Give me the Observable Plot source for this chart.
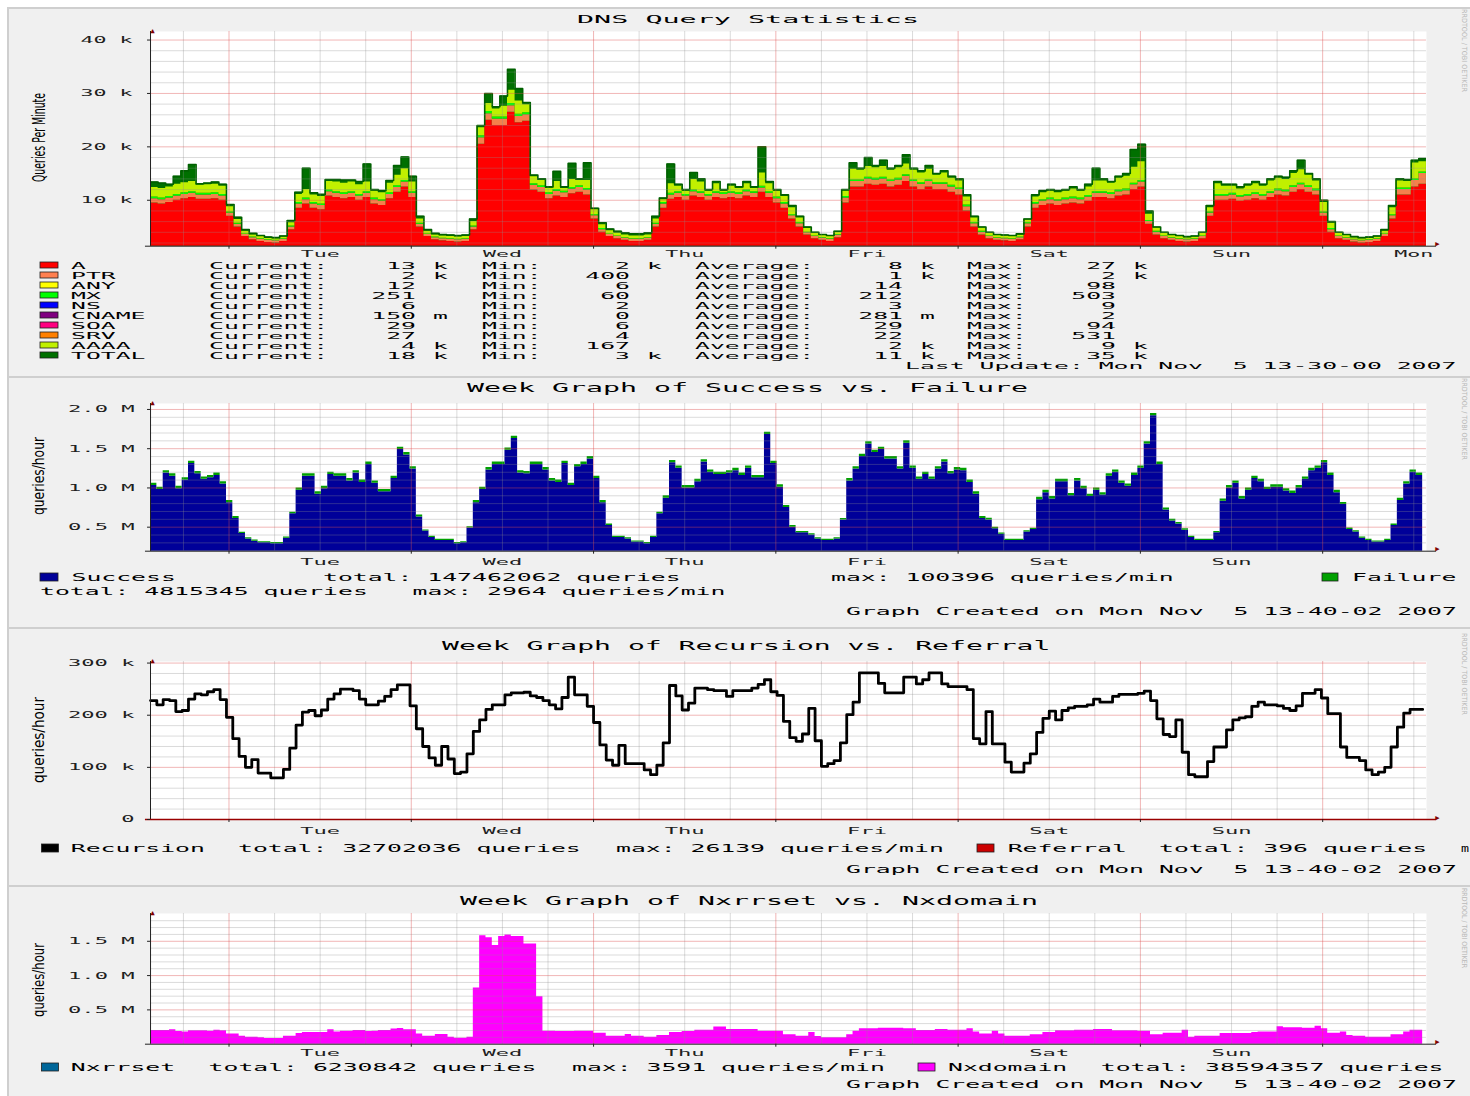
<!DOCTYPE html>
<html><head><meta charset="utf-8">
<script src="https://cdn.jsdelivr.net/npm/d3@7"></script>
<script src="https://cdn.jsdelivr.net/npm/@observablehq/plot@0.6"></script>
<style>
html,body{margin:0;padding:0;background:#fff;}
#page{position:relative;width:1470px;height:1096px;overflow:hidden;background:#fff;}
.panel{position:absolute;left:7px;width:1470px;background:#f0f0f0;border-top:2px solid #cfcfcf;border-left:2px solid #cfcfcf;box-sizing:border-box;}
</style></head><body><div id="page"></div>
<script>
// ---------------- DATA ----------------
const dayLabels = ["Tue","Wed","Thu","Fri","Sat","Sun","Mon"];

// Panel 1: DNS Query Statistics (hourly, thousands of queries per minute)
const dnsA = [
9.5,9.3,9.6,10.0,10.3,10.5,10.2,10.2,10.3,10.0,
7.0,5.0,3.2,2.6,2.3,2.1,2.0,2.3,4.5,8.5,
9.3,8.5,8.2,10.8,10.5,10.3,10.5,10.0,10.5,9.3,
9.0,10.3,11.5,12.5,10.5,5.0,3.2,2.6,2.4,2.3,
2.2,2.3,4.5,20.5,25.0,24.0,24.0,26.5,24.5,24.8,
11.9,11.5,10.3,10.8,10.5,11.2,11.5,11.0,6.5,4.0,
3.2,2.8,2.5,2.3,2.3,2.5,5.0,8.5,10.2,10.5,
10.0,10.8,10.5,10.0,10.5,10.3,10.5,10.3,10.8,10.5,
11.5,10.5,9.5,8.5,6.5,5.0,3.5,2.8,2.5,2.3,
3.0,9.5,12.5,12.5,13.0,12.8,13.0,12.5,12.8,13.5,
12.5,12.0,12.5,12.0,12.0,11.5,11.0,8.0,5.0,3.5,
2.8,2.5,2.4,2.3,2.6,5.0,8.5,9.0,9.3,9.0,
9.3,9.5,9.3,9.8,10.5,10.5,10.3,10.8,11.0,12.0,
12.5,5.5,3.5,2.8,2.5,2.3,2.2,2.3,2.8,7.0,
10.0,10.0,10.2,9.8,10.0,10.3,10.0,10.5,11.0,10.8,
11.5,12.0,11.5,11.0,7.0,4.0,2.8,2.5,2.2,2.0,
2.1,2.3,3.2,6.5,11.0,11.0,12.5,13.0];
const dnsPTR = [
.8,.8,.8,.8,.8,.8,.8,.8,.8,.8,
.6,.5,.4,.4,.4,.4,.4,.4,.5,.8,
.8,.8,.8,.8,.8,.8,.8,.8,.8,.8,
.8,.8,.9,.9,.8,.5,.4,.4,.4,.4,
.4,.4,.5,1.2,1.2,1.2,1.2,1.2,1.2,1.2,
.9,.9,.8,.9,.9,.9,.9,.9,.6,.5,
.4,.4,.4,.4,.4,.4,.5,.8,.8,.8,
.8,.8,.8,.8,.8,.8,.8,.8,.8,.8,
.8,.8,.8,.8,.6,.6,.4,.4,.4,.4,
.5,.9,1.0,1.0,1.0,1.0,1.0,1.0,1.0,1.0,
1.0,1.0,1.0,1.0,1.0,1.0,1.0,.8,.6,.5,
.4,.4,.4,.4,.4,.6,.8,.8,.8,.8,
.8,.8,.8,.8,.8,.8,.8,.8,.8,.9,
.9,.5,.5,.4,.4,.4,.4,.4,.4,.6,
.8,.8,.8,.8,.8,.8,.8,.8,.8,.8,
.9,.9,.9,.8,.6,.5,.4,.4,.4,.4,
.4,.4,.4,.6,1.0,1.0,1.2,2.0];
const dnsMX = [
.3,.3,.3,.3,.3,.3,.3,.3,.3,.3,
.2,.2,.1,.1,.1,.1,.1,.1,.2,.3,
.3,.3,.3,.3,.3,.3,.3,.3,.3,.3,
.3,.3,.3,.3,.3,.2,.1,.1,.1,.1,
.1,.1,.2,.4,.4,.4,.4,.4,.4,.4,
.3,.3,.3,.3,.3,.3,.3,.3,.2,.2,
.1,.1,.1,.1,.1,.1,.2,.3,.3,.3,
.3,.3,.3,.3,.3,.3,.3,.3,.3,.3,
.3,.3,.3,.3,.2,.2,.1,.1,.1,.1,
.1,.3,.3,.3,.3,.3,.3,.3,.3,.3,
.3,.3,.3,.3,.3,.3,.3,.3,.2,.2,
.1,.1,.1,.1,.1,.2,.3,.3,.3,.3,
.3,.3,.3,.3,.3,.3,.3,.3,.3,.3,
.3,.2,.2,.1,.1,.1,.1,.1,.1,.2,
.3,.3,.3,.3,.3,.3,.3,.3,.3,.3,
.3,.3,.3,.3,.2,.2,.1,.1,.1,.1,
.1,.1,.1,.2,.3,.3,.3,.3];
const dnsAAAA = [
1.8,1.8,1.8,1.9,1.9,1.9,1.5,1.6,1.6,1.5,
1.0,.7,.5,.4,.4,.3,.3,.3,.6,1.5,
1.6,1.4,1.4,1.6,1.8,1.8,1.8,1.8,1.8,1.3,
1.3,1.8,2.0,2.2,1.8,.8,.5,.4,.4,.4,
.4,.4,.8,1.5,1.5,1.5,2.0,2.5,2.5,1.5,
1.3,1.0,.8,1.5,.5,1.5,1.0,1.5,.9,.7,
.6,.5,.5,.5,.5,.5,.8,.5,1.8,1.0,
.6,2.0,1.8,.6,1.5,.3,1.0,.8,1.2,.6,
2.5,1.5,1.1,1.1,1.3,.9,.7,.5,.4,.4,
.4,1.0,2.0,1.8,2.0,2.0,2.0,1.8,2.0,2.0,
1.8,1.8,2.0,1.4,1.8,1.3,1.3,1.5,.9,.6,
.5,.4,.4,.4,.4,.5,1.0,1.3,1.3,1.3,
1.3,1.5,1.3,1.6,2.0,2.0,1.8,2.2,2.4,3.0,
3.5,1.2,.6,.5,.4,.4,.3,.3,.5,.8,
2.0,1.5,1.3,1.2,1.5,1.7,1.5,2.0,2.0,2.0,
2.3,2.5,2.0,1.5,1.8,1.0,.5,.4,.3,.3,
.3,.3,.5,1.3,1.3,1.2,3.0,1.9];
const dnsTOTAL = [
13.4,13.2,13.0,14.5,15.5,16.7,13.1,13.2,13.4,13.0,
9.2,6.8,4.5,3.8,3.4,3.1,3.0,3.3,6.2,11.5,
16.0,11.4,11.1,13.9,13.9,13.8,13.8,13.5,16.8,12.0,
11.8,13.7,16.5,18.1,14.5,7.0,4.5,3.8,3.6,3.5,
3.4,3.5,6.5,24.0,30.0,27.5,29.5,34.5,30.9,28.3,
14.7,14.0,12.5,15.4,12.5,16.9,14.0,17.0,8.5,5.8,
4.6,4.2,3.9,3.7,3.7,3.9,7.0,10.4,16.8,13.0,
12.0,15.2,14.0,12.0,13.5,12.0,13.0,12.5,13.5,12.5,
20.0,13.5,12.0,11.0,9.0,7.0,5.0,4.0,3.6,3.4,
4.2,12.0,17.0,16.0,18.0,16.5,17.5,16.0,16.5,18.5,
16.0,15.5,16.5,15.0,15.5,14.5,14.0,11.0,7.0,5.0,
4.0,3.6,3.5,3.4,3.7,6.5,11.0,11.8,12.0,11.8,
12.0,12.5,12.0,13.0,16.0,14.0,13.5,14.5,15.0,19.5,
20.5,8.0,5.0,4.0,3.6,3.4,3.2,3.3,4.0,9.0,
13.5,13.0,13.0,12.5,13.0,13.5,13.0,14.0,14.5,14.3,
15.5,17.5,15.0,14.0,10.0,6.0,4.0,3.6,3.2,3.0,
3.1,3.3,4.5,9.0,14.0,13.9,17.5,17.8];

const dnsTypes   = ["A","PTR","ANY","MX","NS","CNAME","SOA","SRV","AAAA","TOTAL"];
const dnsColors  = ["#ff0000","#ff8050","#ffff00","#00ff00","#0000ff","#800080","#ff0080","#ff8000","#c0f000","#007000"];
const dnsCurrent = ["13 k","2 k","12","251","6","150 m","29","27","4 k","18 k"];
const dnsMin     = ["2 k","400","6","60","2","0","6","4","167","3 k"];
const dnsAvg     = ["8 k","1 k","14","212","3","281 m","29","22","2 k","11 k"];
const dnsMax     = ["27 k","2 k","98","503","9","2","94","531","9 k","35 k"];
const dnsYTicks  = [10,20,30,40];
const dnsYLabels = ["10 k","20 k","30 k","40 k"];

// Panel 2: Success vs Failure (50-minute steps, millions of queries/hour)
const success = [
1.03,0.98,1.19,1.15,0.99,1.10,1.31,1.18,1.11,1.13,
1.16,1.05,0.81,0.61,0.42,0.35,0.32,0.30,0.30,0.29,
0.29,0.36,0.67,0.97,1.15,1.15,0.92,0.99,1.17,1.15,
1.15,1.09,1.19,1.07,1.30,1.06,0.95,0.95,1.12,1.49,
1.42,1.24,0.63,0.45,0.37,0.33,0.33,0.33,0.29,0.30,
0.49,0.81,0.98,1.23,1.30,1.30,1.48,1.63,1.19,1.18,
1.30,1.30,1.23,1.09,1.07,1.31,1.03,1.27,1.30,1.37,
1.12,0.81,0.52,0.37,0.37,0.35,0.31,0.31,0.29,0.37,
0.67,0.87,1.32,1.25,1.00,1.00,1.08,1.33,1.20,1.17,
1.17,1.19,1.22,1.16,1.25,1.13,1.13,1.68,1.31,1.01,
0.75,0.50,0.43,0.43,0.40,0.35,0.33,0.33,0.35,0.59,
1.09,1.24,1.40,1.56,1.45,1.49,1.37,1.37,1.24,1.57,
1.25,1.11,1.17,1.11,1.24,1.33,1.18,1.23,1.22,1.07,
0.92,0.61,0.59,0.48,0.41,0.33,0.33,0.33,0.44,0.47,
0.85,0.94,0.86,1.08,1.08,0.90,1.09,0.99,0.89,0.97,
0.91,1.15,1.20,1.06,1.02,1.16,1.25,1.56,1.92,1.30,
0.72,0.58,0.54,0.46,0.37,0.33,0.33,0.33,0.43,0.83,
1.00,1.06,0.86,0.97,1.12,1.08,0.98,1.01,1.01,0.96,
0.93,1.00,1.11,1.22,1.25,1.32,1.16,0.94,0.79,0.47,
0.44,0.36,0.33,0.31,0.31,0.33,0.52,0.84,1.05,1.20,
1.16];
const failure = [
.03,.03,.03,.03,.03,.03,.03,.03,.03,.03,
.03,.03,.03,.025,.015,.015,.015,.015,.015,.015,
.015,.015,.02,.03,.03,.03,.03,.03,.03,.03,
.03,.03,.03,.03,.03,.03,.03,.03,.03,.03,
.03,.03,.025,.015,.015,.015,.015,.015,.015,.015,
.015,.03,.03,.03,.03,.03,.03,.03,.03,.03,
.03,.03,.03,.03,.03,.03,.03,.03,.03,.03,
.03,.03,.02,.015,.015,.015,.015,.015,.015,.015,
.02,.03,.03,.03,.03,.03,.03,.03,.03,.03,
.03,.03,.03,.03,.03,.03,.03,.03,.03,.03,
.025,.02,.015,.015,.015,.015,.015,.015,.015,.02,
.03,.03,.03,.03,.03,.03,.03,.03,.03,.03,
.03,.03,.03,.03,.03,.03,.03,.03,.03,.03,
.03,.025,.025,.02,.015,.015,.015,.015,.015,.015,
.03,.03,.03,.03,.03,.03,.03,.03,.03,.03,
.03,.03,.03,.03,.03,.03,.03,.03,.03,.03,
.025,.02,.02,.02,.015,.015,.015,.015,.015,.03,
.03,.03,.03,.03,.03,.03,.03,.03,.03,.03,
.03,.03,.03,.03,.03,.03,.03,.03,.025,.02,
.015,.015,.015,.015,.015,.015,.02,.03,.03,.03,
.03];
const sfYTicks  = [0.5,1.0,1.5,2.0];
const sfYLabels = ["0.5 M","1.0 M","1.5 M","2.0 M"];

// Panel 3: Recursion (50-minute steps, thousands of queries/hour)
const recursion = [
228,220,230,228,207,209,231,241,239,245,
249,230,196,155,121,100,115,89,89,80,
80,96,137,181,206,209,199,210,231,241,
250,250,247,231,220,220,227,236,249,258,
258,218,174,140,118,104,140,116,88,91,
126,169,191,211,220,220,239,243,243,244,
237,234,228,220,212,234,273,239,239,217,
186,143,114,104,142,107,107,107,95,86,
104,147,257,237,210,223,252,252,249,247,
247,236,247,247,247,252,259,268,245,238,
188,157,150,164,213,151,102,107,113,147,
201,225,281,281,281,261,243,243,243,273,
273,260,268,281,281,260,255,255,255,249,
155,145,207,145,145,110,91,91,108,126,
167,194,208,191,209,214,217,217,220,231,
225,225,236,240,240,240,242,246,228,193,
163,159,191,129,86,82,82,111,139,139,
172,191,195,197,217,225,220,220,218,213,
209,218,242,242,249,233,203,203,139,119,
119,113,95,86,91,100,139,177,204,211,
211];
const recYTicks  = [0,100,200,300];
const recYLabels = ["0","100 k","200 k","300 k"];

// Panel 4: Nxdomain (50-minute steps, millions of queries/hour)
const nxdomain = [
0.20,0.20,0.20,0.21,0.185,0.176,0.195,0.195,0.195,0.19,
0.205,0.195,0.15,0.15,0.117,0.10,0.10,0.093,0.083,0.083,
0.083,0.117,0.117,0.156,0.17,0.17,0.17,0.17,0.21,0.176,
0.19,0.19,0.20,0.20,0.185,0.19,0.20,0.20,0.22,0.23,
0.21,0.21,0.15,0.117,0.117,0.14,0.14,0.10,0.088,0.088,
0.10,0.82,1.58,1.55,1.44,1.57,1.59,1.57,1.57,1.46,
1.46,0.69,0.19,0.19,0.185,0.185,0.185,0.19,0.19,0.19,
0.16,0.16,0.117,0.117,0.117,0.14,0.117,0.117,0.10,0.10,
0.127,0.127,0.17,0.17,0.185,0.185,0.205,0.205,0.205,0.25,
0.25,0.215,0.215,0.215,0.215,0.215,0.19,0.19,0.19,0.19,
0.137,0.137,0.117,0.117,0.17,0.112,0.093,0.093,0.093,0.093,
0.137,0.19,0.225,0.225,0.225,0.234,0.234,0.234,0.234,0.225,
0.225,0.20,0.20,0.20,0.215,0.215,0.205,0.205,0.205,0.225,
0.176,0.15,0.15,0.19,0.15,0.117,0.117,0.117,0.117,0.137,
0.137,0.17,0.17,0.195,0.195,0.195,0.205,0.205,0.205,0.215,
0.215,0.215,0.195,0.195,0.195,0.195,0.19,0.19,0.137,0.137,
0.16,0.16,0.16,0.205,0.10,0.117,0.117,0.117,0.117,0.156,
0.156,0.156,0.156,0.156,0.17,0.176,0.176,0.176,0.254,0.24,
0.24,0.24,0.234,0.234,0.26,0.225,0.16,0.16,0.176,0.127,
0.117,0.117,0.10,0.10,0.10,0.10,0.137,0.137,0.176,0.205,
0.205];
const nxYTicks  = [0.5,1.0,1.5];
const nxYLabels = ["0.5 M","1.0 M","1.5 M"];

// ---------------- BUILD ----------------
const HOUR = 3600e3, STEP50 = 50*60e3;
const t0 = Date.UTC(2007,9,29,13,40), tEnd = t0 + 168*HOUR;
const d0 = new Date(t0), dEnd = new Date(tEnd);
const midnights = d3.range(7).map(d => new Date(Date.UTC(2007,9,30+d)));
const noons = dayLabels.map((_, d) => new Date(Date.UTC(2007,9,30+d,12)));
const sixes = d3.utcHour.every(6).range(d0, dEnd).filter(d => d.getUTCHours() !== 0);

function rows(arr, step, name){
  const r = arr.map((v,i) => ({t:new Date(t0 + i*step), v, s:name}));
  r.push({t:new Date(t0 + arr.length*step), v:arr[arr.length-1], s:name});
  return r;
}

const page = document.getElementById("page");
[[7,370],[376,252],[627,259],[885,215]].forEach(([top,h]) => {
  const d = document.createElement("div"); d.className = "panel";
  d.style.top = top + "px"; d.style.height = h + "px"; page.appendChild(d);
});

function gridMarks(minorY, majorY){
  return [
    Plot.ruleY(minorY, {stroke:"#8f8f8f", strokeOpacity:0.32}),
    Plot.ruleX(sixes, {stroke:"#8f8f8f", strokeOpacity:0.32}),
    Plot.ruleY(majorY, {stroke:"#de5050", strokeOpacity:0.42}),
    Plot.ruleX(midnights, {stroke:"#de5050", strokeOpacity:0.42})
  ];
}
function axisMarks(o){
  const nn = o.showMon ? noons : noons.slice(0,6);
  return [
    Plot.ruleX([d0], {stroke:"#202020"}),
    Plot.ruleY([o.ymin], {x1:new Date(t0 - 40*60e3), x2:new Date(tEnd + 80*60e3), stroke:o.baseColor || "#202020", strokeWidth:o.baseWidth || 1}),
    Plot.axisY({ticks:o.yTicks, tickFormat:d => o.yLabels[o.yTicks.indexOf(d)], tickSize:3, tickPadding:o.yPad, label:null, fontSize:o.font}),
    Plot.axisX({ticks:midnights, tickSize:3, tickFormat:() => "", label:null}),
    Plot.axisX({ticks:nn, tickSize:0, tickPadding:o.xPad, label:null, fontSize:o.font,
      tickFormat:d => dayLabels[noons.findIndex(n => +n === +d)]}),
    Plot.text(["\u25B2"], {frameAnchor:"top-left", text:d => d, dy:-3, fill:"#7f0000", fontSize:7}),
    Plot.text(["\u25B6"], {frameAnchor:"bottom-right", text:d => d, dx:13, fill:"#7f0000", fontSize:7})
  ];
}
function stretch(svg, cw){
  d3.select(svg).selectAll("text").each(function(){
    const s = this.textContent;
    if (!s || s === "\u25B2" || s === "\u25B6") return;
    this.setAttribute("textLength", (s.length*cw).toFixed(1));
    this.setAttribute("lengthAdjust", "spacingAndGlyphs");
  });
}
function place(svg, top){
  svg.style.position = "absolute"; svg.style.left = "0px"; svg.style.top = top + "px";
  page.appendChild(svg);
}
const baseStyle = {background:"transparent", fontFamily:"DejaVu Sans Mono", fontSize:"8.5px", color:"#202020", overflow:"visible"};
const common = {width:1470, marginLeft:150, marginRight:44, marginTop:20, marginBottom:20,
  x:{type:"utc", domain:[d0, dEnd]}, style:baseStyle};

// Panel 1
const stackNames = ["A","PTR","MX","AAAA"];
const stackRows = [...rows(dnsA,HOUR,"A"), ...rows(dnsPTR,HOUR,"PTR"), ...rows(dnsMX,HOUR,"MX"), ...rows(dnsAAAA,HOUR,"AAAA")];
const totalRows = rows(dnsTOTAL, HOUR, "TOTAL");
const p1 = Plot.plot({...common, height:254.7,
  y:{domain:[1.4, 41.6]},
  color:{domain:stackNames, range:["#ff0000","#f4804c","#00ff00","#c0f000"]},
  marks:[
    Plot.frame({fill:"#ffffff", stroke:"none"}),
    Plot.areaY(totalRows, {x:"t", y:"v", curve:"step-after", fill:"#007000", clip:true}),
    Plot.areaY(stackRows, Plot.stackY({x:"t", y:"v", z:"s", fill:"s", order:stackNames, curve:"step-after", clip:true})),
    Plot.line(totalRows, {x:"t", y:"v", curve:"step-after", stroke:"#006000", strokeWidth:1.6, clip:true}),
    ...gridMarks(d3.range(2, 41, 2).filter(v => v % 10), dnsYTicks),
    ...axisMarks({ymin:1.4, yTicks:dnsYTicks, yLabels:dnsYLabels, yPad:15, xPad:5, showMon:true, font:8.5})
  ]});
stretch(p1, 13.0); place(p1, 11);

// Panel 2
const sfRows = [...rows(success, STEP50, "Success"), ...rows(failure, STEP50, "Failure")];
const p2 = Plot.plot({...common, height:187.7,
  y:{domain:[0.194, 2.076]},
  color:{domain:["Success","Failure"], range:["#000099","#00a000"]},
  marks:[
    Plot.frame({fill:"#ffffff", stroke:"none"}),
    Plot.areaY(sfRows, Plot.stackY({x:"t", y:"v", z:"s", fill:"s", order:["Success","Failure"], curve:"step-after", clip:true})),
    ...gridMarks(d3.range(0.3, 2.0, 0.1).map(v => +v.toFixed(1)).filter(v => Math.abs(v*2 - Math.round(v*2)) > 1e-6), sfYTicks),
    ...axisMarks({ymin:0.194, yTicks:sfYTicks, yLabels:sfYLabels, yPad:13, xPad:7.5, showMon:false, font:9.2})
  ]});
stretch(p2, 13.3); place(p2, 383);

// Panel 3
const recRows = rows(recursion, STEP50, "Recursion");
const p3 = Plot.plot({...common, height:198,
  y:{domain:[0, 303]},
  marks:[
    Plot.frame({fill:"#ffffff", stroke:"none"}),
    ...gridMarks(d3.range(20, 300, 20).filter(v => v % 100), recYTicks.slice(1)),
    Plot.line(recRows, {x:"t", y:"v", curve:"step-after", stroke:"#000000", strokeWidth:2.8}),
    ...axisMarks({ymin:0, yTicks:recYTicks, yLabels:recYLabels, yPad:13, xPad:8, showMon:false, font:9.2, baseColor:"#9a0000", baseWidth:1.6})
  ]});
stretch(p3, 13.3); place(p3, 641);

// Panel 4
const nxRows = rows(nxdomain, STEP50, "Nxdomain");
const p4 = Plot.plot({...common, height:170.7,
  y:{domain:[0, 1.905]},
  marks:[
    Plot.frame({fill:"#ffffff", stroke:"none"}),
    Plot.areaY(nxRows, {x:"t", y:"v", curve:"step-after", fill:"#ff00ff"}),
    ...gridMarks(d3.range(0.1, 1.85, 0.1).map(v => +v.toFixed(1)).filter(v => Math.abs(v*2 - Math.round(v*2)) > 1e-6), nxYTicks),
    ...axisMarks({ymin:0, yTicks:nxYTicks, yLabels:nxYLabels, yPad:13, xPad:5, showMon:false, font:9.2})
  ]});
stretch(p4, 13.3); place(p4, 893.3);

// ---------------- TEXT OVERLAY ----------------
const ov = d3.create("svg").attr("width",1470).attr("height",1096)
  .style("position","absolute").style("left","0px").style("top","0px").style("pointer-events","none");
function T(x, y, s, o={}){
  const size = o.size || 11, cw = o.cw || 14.9, anchor = o.anchor || "start";
  const t = ov.append("text").attr("x",x).attr("y",y).attr("font-family","DejaVu Sans Mono")
    .attr("font-size",size).attr("dominant-baseline","central").attr("text-anchor",anchor)
    .attr("fill",o.fill || "#000").style("white-space","pre").text(s);
  t.attr("textLength",(s.length*cw).toFixed(1)).attr("lengthAdjust","spacingAndGlyphs");
  return t;
}
function S(x, y, w, h, fill){
  ov.append("rect").attr("x",x).attr("y",y).attr("width",w).attr("height",h)
    .attr("fill",fill).attr("stroke","#202020").attr("stroke-width",0.8);
}
function V(cx, cy, s, len, size, fill, rot){
  ov.append("text").attr("transform",`translate(${cx},${cy}) rotate(${rot})`)
    .attr("text-anchor","middle").attr("dominant-baseline","central")
    .attr("font-family","DejaVu Sans").attr("font-size",size).attr("fill",fill)
    .attr("textLength",len).attr("lengthAdjust","spacingAndGlyphs").text(s);
}

// titles
T(577, 19, "DNS Query Statistics", {size:11, cw:17.1});
T(467, 387, "Week Graph of Success vs. Failure", {size:13, cw:17.0});
T(442, 645, "Week Graph of Recursion vs. Referral", {size:13, cw:16.9});
T(460, 900, "Week Graph of Nxrrset vs. Nxdomain", {size:13, cw:17.0});

// vertical axis titles
V(39, 137.5, "Queries Per Minute", 89, 17, "#000", -90);
V(39, 476, "queries/hour", 78, 15, "#000", -90);
V(39, 740, "queries/hour", 86, 15, "#000", -90);
V(39, 980, "queries/hour", 74, 15, "#000", -90);

// watermark
[[9,92],[378,460],[633,715],[888,968]].forEach(([a,b]) =>
  V(1464, (a+b)/2, "RRDTOOL / TOBI OETIKER", b-a, 7, "#b8b8b8", 90));

// panel 1 legend
const P1 = {size:9.5, cw:14.9};
function val(xEnd, y, s){
  const [n, u] = s.split(" ");
  T(xEnd, y, n, {...P1, anchor:"end"});
  if (u) T(xEnd + P1.cw + 2, y, u, P1);
}
dnsTypes.forEach((name, i) => {
  const y = 265 + i*10;
  S(40, y-3, 18, 6, dnsColors[i]);
  T(71, y, name, P1);
  T(209, y, "Current:", P1); val(416, y, dnsCurrent[i]);
  T(482, y, "Min:", P1);     val(630, y, dnsMin[i]);
  T(695, y, "Average:", P1); val(903, y, dnsAvg[i]);
  T(967, y, "Max:", P1);     val(1116, y, dnsMax[i]);
});
T(905, 365, "Last Update: Mon Nov  5 13-30-00 2007", P1);

// panel 2 legend
const PL = {size:11, cw:14.9};
S(40, 573, 18, 8, "#000099"); T(71.5, 577, "Success", PL);
T(323, 577, "total: 147462062 queries", PL);
T(831, 577, "max: 100396 queries/min", PL);
S(1322, 573, 16, 8, "#00a000"); T(1352, 577, "Failure", PL);
T(40, 591.7, "total: 4815345 queries   max: 2964 queries/min", PL);
T(846, 611, "Graph Created on Mon Nov  5 13-40-02 2007", PL);

// panel 3 legend
S(41.5, 844, 17, 8, "#000000"); T(70.8, 848, "Recursion", PL);
T(238, 848, "total: 32702036 queries", PL);
T(616, 848, "max: 26139 queries/min", PL);
S(977, 844, 17, 8, "#cc0000"); T(1007.7, 848, "Referral", PL);
T(1159, 848, "total: 396 queries", PL);
T(1461, 848, "m", {size:11, cw:8});
T(846, 869, "Graph Created on Mon Nov  5 13-40-02 2007", PL);

// panel 4 legend
S(41.5, 1063, 17, 8, "#006699"); T(70.8, 1067, "Nxrrset", PL);
T(208.6, 1067, "total: 6230842 queries", PL);
T(572, 1067, "max: 3591 queries/min", PL);
S(918, 1063, 17, 8, "#ff00ff"); T(948, 1067, "Nxdomain", PL);
T(1100.8, 1067, "total: 38594357 queries", PL);
T(846, 1084, "Graph Created on Mon Nov  5 13-40-02 2007", PL);

page.appendChild(ov.node());
</script></body></html>
